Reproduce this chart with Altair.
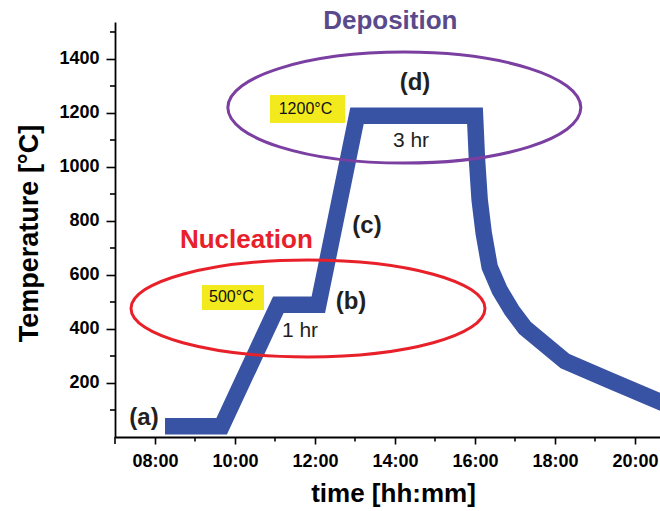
import altair as alt
import pandas as pd

# ---------------- data ----------------
line_times = ["08:15", "09:40", "11:05", "12:05", "13:03", "16:00", "16:03", "16:07",
              "16:13", "16:22", "16:37", "16:55", "17:15", "18:15", "19:22", "20:50"]
line_temps = [40, 40, 490, 490, 1190, 1190, 1026, 878,
              756, 630, 544, 470, 404, 281, 210, 117]

x_major_hours = [8, 10, 12, 14, 16, 18, 20]
x_minor_hours = [9, 11, 13, 15, 17, 19]
y_major = [200, 400, 600, 800, 1000, 1200, 1400]
y_minor = [100, 300, 500, 700, 900, 1100, 1300, 1500]

paren_labels = ["(a)", "(b)", "(c)", "(d)"]
paren_times = ["07:43:30", "12:54", "13:18", "14:30"]
paren_temps = [70, 500, 781, 1311]

dur_labels = ["1 hr", "3 hr"]
dur_times = ["11:37:30", "14:24"]
dur_temps = [393, 1096]

box_labels = ["500°C", "1200°C"]
box_text_times = ["09:54:36", "11:45:42"]
box_text_temps = [517, 1215]
box_t0 = ["09:10:30", "10:52:30"]
box_t1 = ["10:43:30", "12:45"]
box_T0 = [470, 1163]
box_T1 = [563, 1267]

stage_labels = ["Deposition", "Nucleation"]
stage_times = ["13:53", "10:17"]
stage_temps = [1511, 700]
stage_colors = ["#5b4a8b", "#e8202a"]

ell_times = ["14:14", "11:49:30"]
ell_temps = [1220, 476]

FONT = "Liberation Sans"


def ts(hm):
    return "2020-01-01T" + (hm if hm.count(":") == 2 else hm + ":00")


def dt(h, m=0, s=0):
    return alt.DateTime(year=2020, month=1, date=1, hours=h, minutes=m, seconds=s)


line_df = pd.DataFrame({"time": [ts(t) for t in line_times], "temp": line_temps})
paren_df = pd.DataFrame({"label": paren_labels, "time": [ts(t) for t in paren_times], "temp": paren_temps})
dur_df = pd.DataFrame({"label": dur_labels, "time": [ts(t) for t in dur_times], "temp": dur_temps})
boxtxt_df = pd.DataFrame({"label": box_labels, "time": [ts(t) for t in box_text_times], "temp": box_text_temps})
box_df = pd.DataFrame({"t0": [ts(t) for t in box_t0], "t1": [ts(t) for t in box_t1],
                       "T0": box_T0, "T1": box_T1})
xminor_df = pd.DataFrame({"time": [ts(f"{h:02d}:00") for h in x_minor_hours]})
xcorner_df = pd.DataFrame({"time": [ts("07:00")]})
yminor_df = pd.DataFrame({"temp": y_minor})

xscale = alt.Scale(domain=[dt(7), dt(20, 37, 30)], nice=False)
yscale = alt.Scale(domain=[0, 1537], nice=False, zero=False)

x_axis = alt.Axis(
    values=[dt(h) for h in x_major_hours], format="%H:%M",
    tickSize=7,
    labelFont=FONT, labelFontSize=18, labelFontWeight="bold", labelColor="black",
    labelPadding=8, labelOverlap=False, labelFlush=False,
    tickColor="black", tickWidth=1.6, domainColor="black", domainWidth=1.8,
    grid=False, title="time [hh:mm]", titleFont=FONT, titleFontSize=26,
    titleFontWeight="bold", titleColor="black", titleX=278, titleY=64,
    titleAlign="center", titleBaseline="alphabetic", titleAnchor="middle",
)
y_axis = alt.Axis(
    values=y_major, format="d",
    tickSize=9,
    labelFont=FONT, labelFontSize=18, labelFontWeight="bold", labelColor="black",
    labelPadding=7, labelOverlap=False, labelFlush=False,
    tickColor="black", tickWidth=1.6, domainColor="black", domainWidth=1.8,
    grid=False, title="Temperature [°C]", titleFont=FONT, titleFontSize=27,
    titleFontWeight="bold", titleColor="black", titleX=-78, titleY=211,
    titleAngle=270, titleAlign="center", titleBaseline="alphabetic",
)

base_x = alt.X("time:T", scale=xscale, axis=x_axis)
base_y = alt.Y("temp:Q", scale=yscale, axis=y_axis)

line = alt.Chart(line_df).mark_line(
    color="#3953a4", strokeWidth=16.5, strokeJoin="miter", strokeCap="butt", clip=True
).encode(x=base_x, y=base_y)

x_minor = alt.Chart(xminor_df).mark_rule(color="black", strokeWidth=1.6).encode(
    x=alt.X("time:T", scale=xscale), y=alt.value(415), y2=alt.value(419.5)
)
x_corner = alt.Chart(xcorner_df).mark_rule(color="black", strokeWidth=1.6).encode(
    x=alt.X("time:T", scale=xscale), y=alt.value(415), y2=alt.value(422)
)
y_minor_ticks = alt.Chart(yminor_df).mark_rule(color="black", strokeWidth=1.6).encode(
    y=alt.Y("temp:Q", scale=yscale), x=alt.value(0), x2=alt.value(-5)
)

boxes = alt.Chart(box_df).mark_rect(color="#f2ea1c").encode(
    x=alt.X("t0:T", scale=xscale), x2="t1:T",
    y=alt.Y("T0:Q", scale=yscale), y2="T1:Q",
)

boxtxt = alt.Chart(boxtxt_df).mark_text(
    font=FONT, fontSize=16, color="#111111", align="center", baseline="middle"
).encode(x=alt.X("time:T", scale=xscale), y=alt.Y("temp:Q", scale=yscale), text="label:N")

parens = alt.Chart(paren_df).mark_text(
    font=FONT, fontSize=24, fontWeight="bold", color="#231f20", align="center", baseline="middle"
).encode(x=alt.X("time:T", scale=xscale), y=alt.Y("temp:Q", scale=yscale), text="label:N")

durs = alt.Chart(dur_df).mark_text(
    font=FONT, fontSize=21, color="#231f20", align="center", baseline="middle"
).encode(x=alt.X("time:T", scale=xscale), y=alt.Y("temp:Q", scale=yscale), text="label:N")

stage_layers = []
for lab, t, T, c in zip(stage_labels, stage_times, stage_temps, stage_colors):
    df = pd.DataFrame({"label": [lab], "time": [ts(t)], "temp": [T]})
    stage_layers.append(
        alt.Chart(df).mark_text(
            font=FONT, fontSize=26, fontWeight="bold", color=c, align="center", baseline="alphabetic"
        ).encode(x=alt.X("time:T", scale=xscale), y=alt.Y("temp:Q", scale=yscale), text="label:N")
    )


def ellipse_path(r):
    k = 0.5523
    kr = k * r
    return (f"M -1 0 C -1 {-kr:.4f} {-k} {-r:.4f} 0 {-r:.4f} "
            f"C {k} {-r:.4f} 1 {-kr:.4f} 1 0 "
            f"C 1 {kr:.4f} {k} {r:.4f} 0 {r:.4f} "
            f"C {-k} {r:.4f} -1 {kr:.4f} -1 0 Z")


ell_specs = [(176.5, 55.5, "#7a3fa0"), (177.0, 48.5, "#e8202a")]
ell_layers = []
for (rx, ry, col), t, T in zip(ell_specs, ell_times, ell_temps):
    df = pd.DataFrame({"time": [ts(t)], "temp": [T]})
    ell_layers.append(
        alt.Chart(df).mark_point(
            shape=ellipse_path(ry / rx), size=(2 * rx) ** 2, filled=False,
            stroke=col, strokeWidth=3, opacity=1
        ).encode(x=alt.X("time:T", scale=xscale), y=alt.Y("temp:Q", scale=yscale))
    )

chart = alt.layer(
    line, x_minor, x_corner, y_minor_ticks, boxes, boxtxt, *ell_layers, parens, durs, *stage_layers
).properties(
    width=545, height=415,
    autosize=alt.AutoSizeParams(type="none"),
    padding={"left": 115, "top": 22, "right": 0, "bottom": 74},
    background="white",
).configure_view(stroke=None)

chart.save("out.html", embed_options={"renderer": "svg", "actions": False})
